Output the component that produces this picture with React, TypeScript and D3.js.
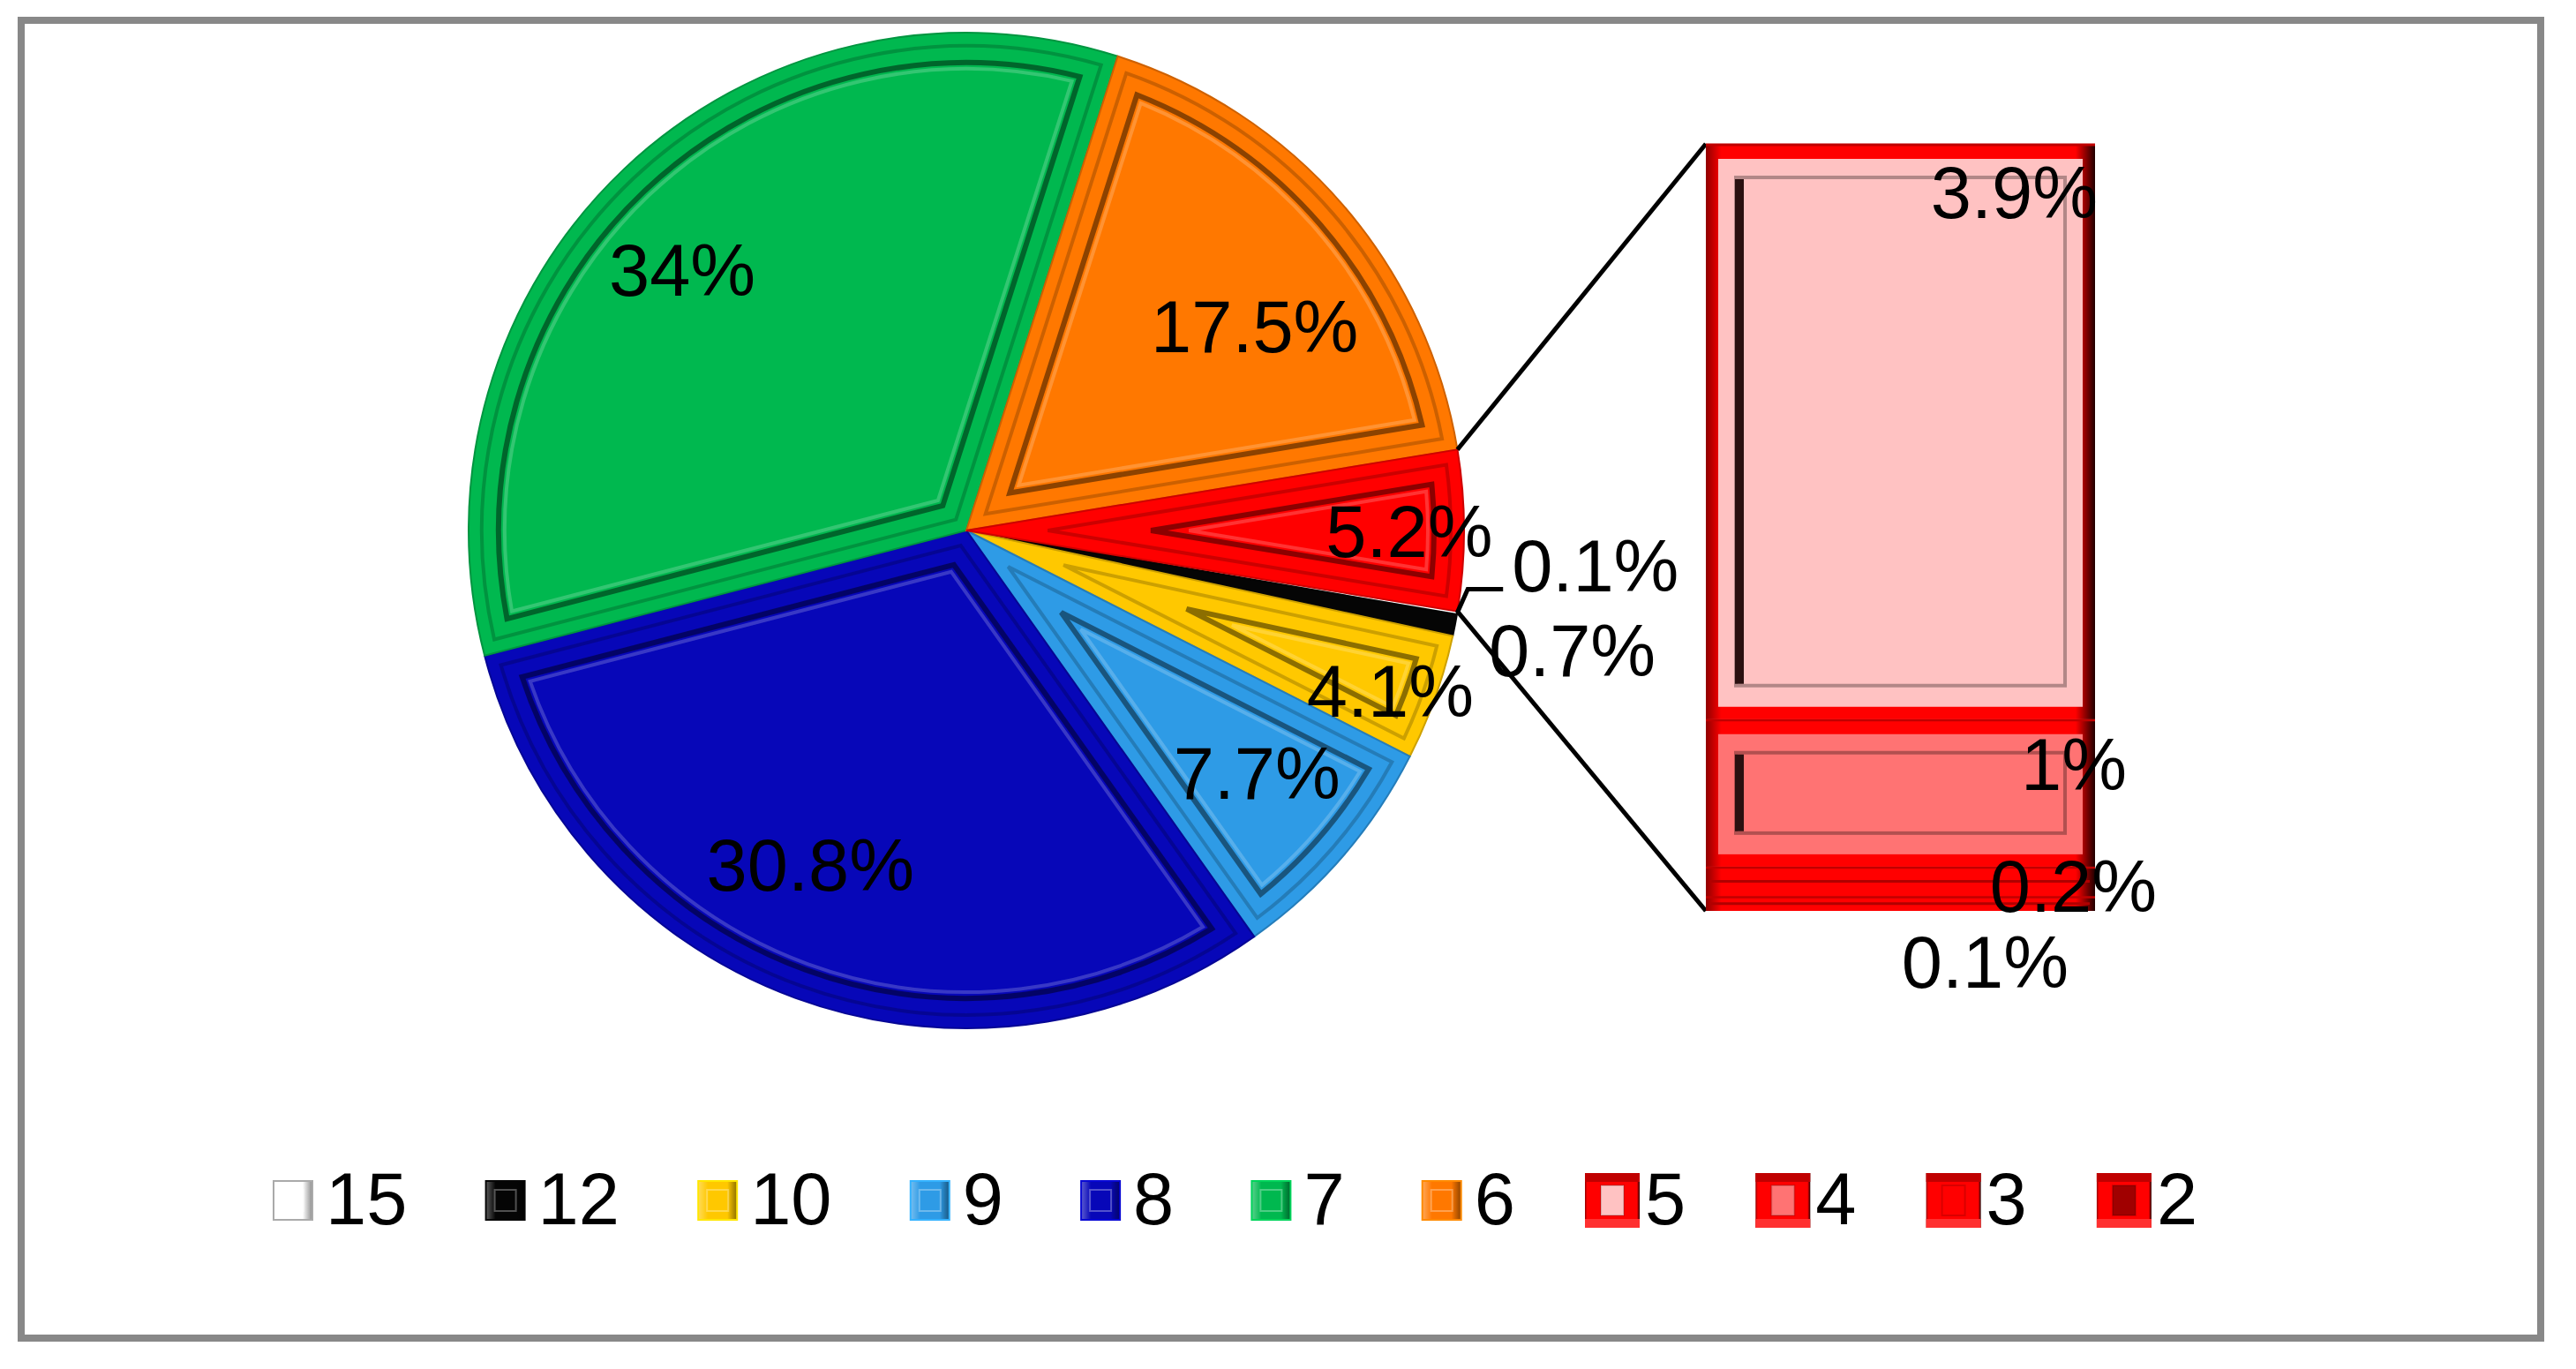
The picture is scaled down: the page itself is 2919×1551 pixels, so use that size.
import React from 'react';
import * as d3 from 'd3';

// main pie categories (clockwise after the "other" slice)
const pieCategories = ['15', '12', '10', '9', '8', '7', '6'];
const pieValues = [0.1, 0.7, 4.1, 7.7, 30.8, 34, 17.5];
const pieLabels = ['0.1%', '0.7%', '4.1%', '7.7%', '30.8%', '34%', '17.5%'];

// split-off bar (top to bottom)
const barCategories = ['5', '4', '3', '2'];
const barValues = [3.9, 1, 0.2, 0.1];
const barLabels = ['3.9%', '1%', '0.2%', '0.1%'];
const otherLabel = '5.2%';

const legendOrder = ['15', '12', '10', '9', '8', '7', '6', '5', '4', '3', '2'];

const colors: Record<string, string> = {
  '15': '#ffffff',
  '12': '#050505',
  '10': '#ffc800',
  '9': '#2e9be6',
  '8': '#0707b8',
  '7': '#00b84f',
  '6': '#ff7800',
  other: '#ff0000',
  '5': '#ffc2c2',
  '4': '#ff7373',
  '3': '#ff0000',
  '2': '#a00000',
};

// label placement: radius as fraction of R, angle nudge in degrees
const pieLabelPlacement: Record<string, [number, number]> = {
  '10': [0.91, 1],
  '9': [0.76, -1],
  '8': [0.74, 5],
  '7': [0.775, -4],
  '6': [0.71, 5.5],
  other: [0.89, 0],
};
// bar labels: [dx from bar right (text end), baseline offset from segment top]
const barLabelPlacement: Record<string, [number, number]> = {
  '5': [3, 84],
  '4': [36, 80],
  '3': [70, 51],
  '2': [-30, 104],
};

const W = 2919;
const H = 1551;
const FONT = "'Liberation Sans', Arial, sans-serif";
const FS = 83;

const pt = (a: number, r: number): [number, number] => [r * Math.sin(a), -r * Math.cos(a)];

// sector shrunk inward by d on every side
function insetSlice(a0: number, a1: number, R: number, d: number): string | null {
  const th = a1 - a0;
  const rho = R - d;
  const delta = Math.asin(d / rho);
  if (th <= 2 * delta + 0.02) return null;
  const apexR = d / Math.sin(th / 2);
  if (apexR > rho * 0.8) return null;
  const mid = (a0 + a1) / 2;
  const p = d3.path();
  const [ax, ay] = pt(mid, apexR);
  p.moveTo(ax, ay);
  const [sx, sy] = pt(a0 + delta, rho);
  p.lineTo(sx, sy);
  p.arc(0, 0, rho, a0 + delta - Math.PI / 2, a1 - delta - Math.PI / 2, false);
  p.closePath();
  return p.toString();
}

const App: React.FC = () => {
  const cx = 1095;
  const cy = 601;
  const R = 564;

  const otherValue = d3.sum(barValues);
  const slices = [
    ...pieCategories.map((c, i) => ({ key: c, value: pieValues[i], label: pieLabels[i] })),
    { key: 'other', value: otherValue, label: otherLabel },
  ];
  const total = d3.sum(slices, (d) => d.value);
  const otherAngle = (otherValue / total) * 2 * Math.PI;
  const start = Math.PI / 2 + otherAngle / 2;
  const arcs = d3
    .pie<{ key: string; value: number; label: string }>()
    .value((d) => d.value)
    .sort(null)
    .startAngle(start)
    .endAngle(start + 2 * Math.PI)(slices);

  const arc = d3.arc<d3.PieArcDatum<any>>().innerRadius(0).outerRadius(R);

  // bar
  const barX0 = 1933;
  const barX1 = 2374;
  const y = d3.scaleLinear().domain([0, otherValue]).range([1032, 163]);
  const bottomUp = barCategories.map((c, i) => ({ key: c, value: barValues[i], label: barLabels[i] })).reverse();
  const cum = d3.cumsum(bottomUp, (d) => d.value);
  const segs = bottomUp.map((d, i) => ({ ...d, y0: cum[i] - d.value, y1: cum[i] }));

  const otherArc = arcs.find((a) => a.data.key === 'other')!;
  const [tx, ty] = pt(otherArc.startAngle, R);
  const [bx, by] = pt(otherArc.endAngle, R);

  // legend
  const legendY = 1360;
  let lx = 332;
  const legendItems = legendOrder.map((k) => {
    const item = { key: k, x: lx };
    lx += 146 + 47.3 * k.length;
    return item;
  });

  return (
    <svg width={W} height={H} style={{ position: 'absolute', left: 0, top: 0, display: 'block', background: '#fff' }}>
      <defs>
        <linearGradient id="redEdge" x1="0" x2="1" y1="0" y2="0">
          <stop offset="0%" stopColor="#900000" />
          <stop offset="4%" stopColor="#ff0000" />
          <stop offset="95%" stopColor="#ff0000" />
          <stop offset="100%" stopColor="#200000" />
        </linearGradient>
        <linearGradient id="shade" x1="0" x2="1" y1="0" y2="0">
          <stop offset="0%" stopColor="#fff" stopOpacity={0.35} />
          <stop offset="25%" stopColor="#fff" stopOpacity={0} />
          <stop offset="75%" stopColor="#000" stopOpacity={0} />
          <stop offset="100%" stopColor="#000" stopOpacity={0.45} />
        </linearGradient>
      </defs>

      <rect x={24} y={23} width={2855} height={1493} fill="none" stroke="#888888" strokeWidth={8} />

      {/* pie */}
      <g transform={`translate(${cx},${cy})`}>
        {arcs.map((a) => {
          const c = colors[a.data.key];
          const rim = insetSlice(a.startAngle, a.endAngle, R, 15);
          const inner = insetSlice(a.startAngle, a.endAngle, R, 34);
          const inner2 = insetSlice(a.startAngle, a.endAngle, R, 41);
          return (
            <g key={a.data.key}>
              <path d={arc(a) || ''} fill={c} stroke={d3.color(c)!.darker(0.6).toString()} strokeWidth={2} />
              {rim && <path d={rim} fill="none" stroke="#000" strokeOpacity={0.2} strokeWidth={4} />}
              {inner && <path d={inner} fill="none" stroke="#000" strokeOpacity={0.45} strokeWidth={6} />}
              {inner2 && <path d={inner2} fill="none" stroke="#fff" strokeOpacity={0.2} strokeWidth={4} />}
            </g>
          );
        })}
      </g>

      {/* connector lines */}
      <line x1={cx + tx} y1={cy + ty} x2={barX0} y2={y(otherValue)} stroke="#000" strokeWidth={5} />
      <line x1={cx + bx} y1={cy + by} x2={barX0} y2={y(0)} stroke="#000" strokeWidth={5} />

      {/* bar of the "other" slice */}
      {segs.map((s) => {
        const top = y(s.y1);
        const h = y(s.y0) - top;
        const bw = barX1 - barX0;
        return (
          <g key={s.key}>
            <rect x={barX0} y={top} width={bw} height={h} fill="url(#redEdge)" />
            {h > 36 && (
              <rect x={barX0 + 14} y={top + 17} width={bw - 28} height={h - 31} fill={colors[s.key]} />
            )}
            {h > 100 && (
              <>
                <rect x={barX0 + 34} y={top + 38} width={bw - 68} height={h - 76} fill="none" stroke="#000" strokeOpacity={0.3} strokeWidth={4} />
                <line x1={barX0 + 38} y1={top + 40} x2={barX0 + 38} y2={top + h - 40} stroke="#2a1010" strokeWidth={10} />
              </>
            )}
            {h <= 36 && (
              <line x1={barX0 + 6} x2={barX1 - 6} y1={top + h / 2} y2={top + h / 2} stroke="#b00000" strokeWidth={3} />
            )}
            <line x1={barX0} x2={barX1} y1={top + 1} y2={top + 1} stroke="#c00000" strokeWidth={3} />
          </g>
        );
      })}

      {/* pie labels */}
      <g fontFamily={FONT} fontSize={FS} fill="#000">
        {arcs.map((a) => {
          const k = a.data.key;
          const mid = (a.startAngle + a.endAngle) / 2;
          if (k === '15') {
            const [px, py] = pt(mid, R);
            const p0: [number, number] = [cx + px, cy + py];
            const p1: [number, number] = [p0[0] + 12, p0[1] - 27];
            const p2: [number, number] = [p1[0] + 40, p1[1]];
            return (
              <g key={k}>
                <polyline points={[p0, p1, p2].map((p) => p.join(',')).join(' ')} fill="none" stroke="#000" strokeWidth={5} />
                <text x={p2[0] + 10} y={p2[1] + 3} textAnchor="start">{a.data.label}</text>
              </g>
            );
          }
          if (k === '12') {
            const [px, py] = pt(mid, R * 1.24);
            return (
              <text key={k} x={cx + px} y={cy + py + 32} textAnchor="middle">{a.data.label}</text>
            );
          }
          const [f, nudge] = pieLabelPlacement[k];
          const [px, py] = pt(mid + (nudge * Math.PI) / 180, R * f);
          return (
            <text key={k} x={cx + px} y={cy + py + 30} textAnchor="middle">{a.data.label}</text>
          );
        })}

        {segs.map((s) => {
          const [dx, dy] = barLabelPlacement[s.key];
          return (
            <text key={s.key} x={barX1 + dx} y={y(s.y1) + dy} textAnchor="end">{s.label}</text>
          );
        })}
      </g>

      {/* legend */}
      <g fontFamily={FONT} fontSize={FS} fill="#000">
        {legendItems.map((it) => {
          const c = colors[it.key];
          const isBar = barCategories.includes(it.key);
          return (
            <g key={it.key}>
              {isBar ? (
                <>
                  <rect x={it.x - 31} y={legendY - 31} width={62} height={62} fill="url(#redEdge)" />
                  <rect x={it.x - 31} y={legendY - 31} width={62} height={10} fill="#c00000" />
                  <rect x={it.x - 31} y={legendY + 21} width={62} height={10} fill="#ff3030" />
                  <rect x={it.x - 13} y={legendY - 17} width={26} height={34} fill={c} stroke="#000" strokeOpacity={0.15} strokeWidth={2} />
                </>
              ) : (
                <>
                  <rect x={it.x - 22} y={legendY - 22} width={44} height={44} fill={c} />
                  <rect
                    x={it.x - 22}
                    y={legendY - 22}
                    width={44}
                    height={44}
                    fill="url(#shade)"
                    stroke={it.key === '15' ? '#aaaaaa' : d3.color(c)!.brighter(0.4).toString()}
                    strokeWidth={2}
                  />
                  <rect x={it.x - 12} y={legendY - 12} width={24} height={24} fill="none" stroke="#fff" strokeOpacity={0.3} strokeWidth={2} />
                </>
              )}
              <text x={it.x + 37} y={legendY + 27}>{it.key}</text>
            </g>
          );
        })}
      </g>
    </svg>
  );
};

export default App;
